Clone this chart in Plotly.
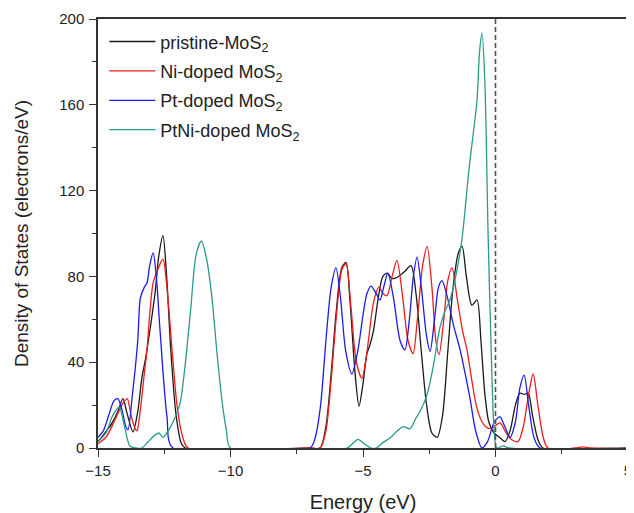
import plotly.graph_objects as go

# energy (eV) / density of states
pristine_e = [-15, -14.8, -14.5, -14.25, -14.06, -13.9, -13.68, -13.5, -13.34, -13.2, -13.04, -12.85, -12.7,
              -12.55, -12.42, -12.25, -12.05, -11.85, -11.7, -7.0, -6.62, -6.4, -6.2, -6.0, -5.8, -5.64, -5.5,
              -5.3, -5.15, -5.0, -4.85, -4.74, -4.6, -4.4, -4.25, -4.09, -3.9, -3.72, -3.45, -3.19, -3.0, -2.8,
              -2.6, -2.4, -2.2, -2.0, -1.8, -1.6, -1.4, -1.26, -1.1, -0.89, -0.7, -0.55, -0.4, -0.25, -0.05,
              0.15, 0.36, 0.55, 0.75, 0.92, 1.08, 1.23, 1.4, 1.6, 1.79, 5.0]
pristine_dos = [3, 6, 11, 17, 23, 16, 7.5, 17, 33, 42, 55, 72, 90,
                99, 82, 45, 15, 2, 0, 0, 0, 10, 35, 65, 84, 86.5, 70,
                35, 19.5, 30, 44, 48, 55, 72, 80, 81.5, 79, 79.5, 82, 85, 72, 45,
                20, 7, 5, 15, 45, 75, 91, 94, 80, 66.5, 69, 50, 25, 12, 7,
                5, 3, 8, 20, 25.6, 25, 25.6, 15, 4, 0, 0]

ni_e = [-15, -14.7, -14.4, -14.1, -13.9, -13.75, -13.6, -13.53, -13.4, -13.25, -13.15, -13.05, -12.92, -12.75,
        -12.55, -12.4, -12.2, -12.0, -11.8, -11.6, -7.0, -6.62, -6.4, -6.2, -6.0, -5.8, -5.64, -5.45, -5.25,
        -5.04, -4.85, -4.6, -4.4, -4.25, -4.1, -3.9, -3.72, -3.5, -3.3, -3.11, -2.95, -2.75, -2.58, -2.4,
        -2.25, -2.13, -1.95, -1.8, -1.64, -1.45, -1.25, -1.08, -0.9, -0.7, -0.45, -0.2, 0.0, 0.17, 0.4, 0.6,
        0.85, 1.05, 1.25, 1.42, 1.6, 1.8, 1.98, 3.0, 3.3, 3.6, 5.0]
ni_dos = [2, 5, 12, 20, 23, 15, 9, 8, 18, 35, 46, 62, 77, 83,
          88, 75, 45, 18, 5, 0, 0, 0, 8, 32, 62, 83, 86, 65, 40,
          32.5, 45, 68, 75, 72, 71, 80, 87.5, 70, 50, 44, 60, 85, 94, 75,
          50, 43.5, 60, 78, 84, 70, 55, 46, 32, 18.6, 11, 9, 10.5, 11.7, 7, 4,
          3, 10, 25, 34.5, 20, 5, 0, 0, 0.5, 0, 0]

pt_e = [-15, -14.8, -14.6, -14.4, -14.25, -14.1, -13.95, -13.87, -13.7, -13.5, -13.4, -13.25, -13.15, -13.05,
        -12.92, -12.8, -12.66, -12.4, -12.17, -7.0, -6.8, -6.6, -6.4, -6.2, -6.02, -5.85, -5.65, -5.42, -5.2,
        -5.0, -4.85, -4.7, -4.5, -4.36, -4.2, -4.06, -3.85, -3.6, -3.42, -3.25, -3.1, -2.96, -2.8, -2.6,
        -2.47, -2.3, -2.15, -2.02, -1.85, -1.6, -1.34, -1.15, -0.96, -0.75, -0.51, -0.3, -0.05, 0.17, 0.35,
        0.55, 0.75, 0.92, 1.08, 1.25, 1.45, 1.68, 5.0]
pt_dos = [5, 8, 15, 22, 23, 18, 10, 8.5, 25, 50, 70, 75, 77, 85,
          91, 80, 55, 15, 0, 0, 5, 20, 50, 75, 84, 70, 45, 34.5, 45,
          62, 72, 75.5, 72, 69, 76, 81.5, 70, 50, 45.7, 60, 80, 89, 75, 52,
          45, 60, 75, 78, 72, 58, 46, 35, 23, 8, 0, 3, 12, 14.5, 10,
          5, 12, 28, 34, 20, 5, 0, 0]

ptni_e = [-15, -14.7, -14.45, -14.2, -14.0, -13.8, -13.6, -13.35, -13.1, -12.85, -12.7, -12.55, -12.35, -12.1,
          -11.9, -11.7, -11.5, -11.3, -11.1, -10.9, -10.7, -10.5, -10.3, -10.15, -10.0, -5.6, -5.4, -5.19,
          -4.95, -4.7, -4.5, -4.25, -3.98, -3.7, -3.49, -3.23, -3.0, -2.85, -2.58, -2.35, -2.1, -1.9, -1.72,
          -1.5, -1.26, -1.0, -0.7, -0.6, -0.51, -0.4, -0.28, -0.15, -0.05, 0.05, 0.3, 0.5, 5.0]
ptni_dos = [3, 7, 15, 19, 10, 1, 0, 0, 3, 6, 7, 5, 8, 14,
            21, 40, 65, 90, 96.5, 88, 70, 43, 20, 8, 0, 0, 2, 4,
            2, 0, 0, 2.5, 4.7, 8, 10, 9, 14, 17, 25, 38, 56, 64, 69,
            80, 98, 130, 162, 185, 193.5, 170, 100, 40, 8, 0, 1, 0, 0]

series = [
    ("pristine-MoS<sub>2</sub>", pristine_e, pristine_dos, "#1a1a1a"),
    ("Ni-doped MoS<sub>2</sub>", ni_e, ni_dos, "#ee1c1c"),
    ("Pt-doped MoS<sub>2</sub>", pt_e, pt_dos, "#1c1ce6"),
    ("PtNi-doped MoS<sub>2</sub>", ptni_e, ptni_dos, "#2a9a8e"),
]

fig = go.Figure()
for i, (name, e, dos, col) in enumerate(series):
    fig.add_trace(go.Scatter(x=e, y=dos, name=name, mode="lines", legendgroup=f"g{i}",
                             line=dict(color=col, width=1.3, shape="spline", smoothing=0.8)))

# Fermi level
fig.add_vline(x=0, line=dict(color="#555555", width=1.6, dash="5px,3px"))

axis_style = dict(showline=True, mirror=True, linecolor="#333333", linewidth=1.5,
                  ticks="outside", ticklen=7, tickwidth=1.3, tickcolor="#333333",
                  showgrid=False, zeroline=False, automargin=False,
                  tickfont=dict(size=15, color="#222222"))

# the page body adds an 8px margin, so the figure is 8px smaller than the window
fig.update_layout(
    width=626, height=505,
    margin=dict(l=90, r=6, t=11, b=65),
    paper_bgcolor="white", plot_bgcolor="white",
    font=dict(family="Liberation Sans, Arial, sans-serif", color="#222222"),
    xaxis=dict(range=[-15, 5], dtick=5, ticklabelstandoff=1,
               title=dict(text="Energy (eV)", font=dict(size=20), standoff=17),
               minor=dict(dtick=2.5, ticks="outside", ticklen=4, tickcolor="#333333"), **axis_style),
    yaxis=dict(range=[0, 200], dtick=40, ticklabelstandoff=2,
               title=dict(text="Density of States (electrons/eV)", font=dict(size=19), standoff=26),
               minor=dict(dtick=20, ticks="outside", ticklen=4, tickcolor="#333333"), **axis_style),
    legend=dict(x=0.012, y=0.99, xanchor="left", yanchor="top", bgcolor="rgba(0,0,0,0)",
                font=dict(size=18, color="#222222"), tracegroupgap=3, itemwidth=46),
    showlegend=True,
)

fig.write_html("out.html")
